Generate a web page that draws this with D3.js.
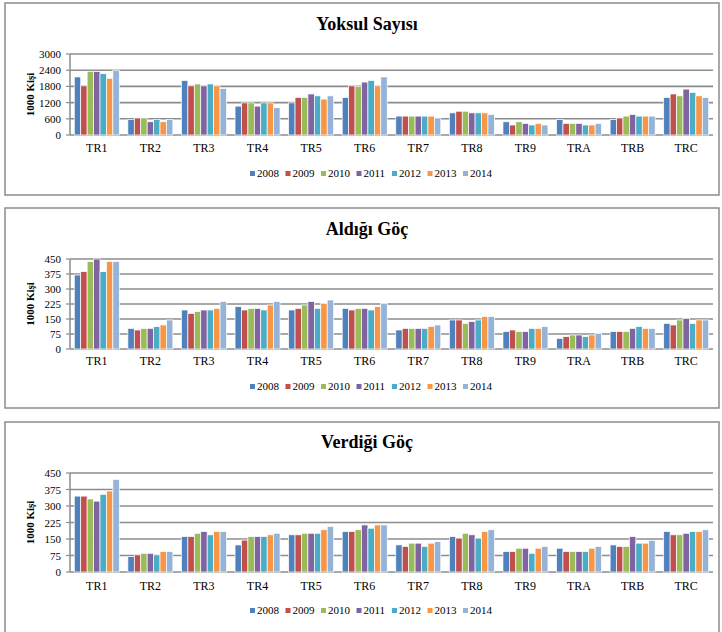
<html>
<head>
<script src="https://d3js.org/d3.v7.min.js"></script>
<style>
body { margin: 0; background: #fff; }
text { font-family: "Liberation Serif", "DejaVu Serif", serif; fill: #000; }
</style>
</head>
<body>
<div id="chart"></div>
<script>
var width = 722, height = 632;

var regions = ["TR1","TR2","TR3","TR4","TR5","TR6","TR7","TR8","TR9","TRA","TRB","TRC"];
var years = ["2008","2009","2010","2011","2012","2013","2014"];
var colors = ["#4f81bd","#c0504d","#9bbb59","#8064a2","#4bacc6","#f79646","#95b3d7"];

// one row per region, one value per year
var yoksul = [
  [2150,1820,2360,2350,2270,2100,2400],
  [580,630,630,490,580,490,580],
  [2020,1820,1890,1820,1890,1820,1720],
  [1070,1190,1190,1070,1190,1190,1010],
  [1190,1390,1390,1520,1450,1330,1450],
  [1390,1820,1790,1960,2020,1820,2150],
  [700,700,700,700,700,700,630],
  [820,880,880,820,820,820,760],
  [490,370,490,430,370,430,370],
  [570,430,430,430,370,370,430],
  [570,630,700,760,700,700,700],
  [1390,1520,1450,1700,1580,1450,1390]
];
var aldigi = [
  [370,387,437,450,387,437,437],
  [103,95,103,103,112,120,145],
  [195,178,187,195,195,203,237],
  [212,195,203,203,195,220,237],
  [195,203,220,237,203,228,245],
  [203,195,203,203,195,212,228],
  [95,103,103,103,103,112,120],
  [145,145,128,137,145,162,162],
  [87,95,87,87,103,103,112],
  [53,62,70,70,62,70,78],
  [87,87,87,103,112,103,103],
  [128,120,145,153,128,145,145]
];
var verdigi = [
  [345,345,332,322,353,368,421],
  [70,78,85,85,78,93,93],
  [161,161,176,184,169,184,184],
  [123,145,161,161,161,169,176],
  [169,169,176,176,176,192,207],
  [184,184,192,214,199,214,214],
  [123,116,131,131,116,131,138],
  [161,154,176,169,154,184,192],
  [93,93,108,108,85,108,116],
  [108,93,93,93,93,108,116],
  [123,116,116,161,131,131,144],
  [184,169,169,176,184,184,192]
];
var ticksYoksul = [0,600,1200,1800,2400,3000];
var ticksGoc = [0,75,150,225,300,375,450];

var svg = d3.select("#chart").append("svg").attr("width", width).attr("height", height);

function drawPanel(p) {
  var g = svg.append("g");

  g.append("rect")
    .attr("x", 5).attr("y", p.boxTop)
    .attr("width", 714).attr("height", p.boxHeight)
    .style("fill", "none").style("stroke", "#8c8c8c").style("stroke-width", 1.5);

  g.append("text")
    .attr("x", 367).attr("y", p.titleY)
    .attr("text-anchor", "middle")
    .style("font-size", "18px").style("font-weight", "bold")
    .text(p.title);

  var x = d3.scaleBand().domain(regions).range([70, 713]).paddingInner(0.16).paddingOuter(0.08);
  var xs = d3.scaleBand().domain(years).range([0, x.bandwidth()]);
  var y = d3.scaleLinear().domain([0, d3.max(p.ticks)]).range([p.bottom, p.top]);

  // gridlines
  g.selectAll(".grid").data(p.ticks).enter().append("line")
    .attr("x1", 70).attr("x2", 713)
    .attr("y1", function(d) { return y(d); })
    .attr("y2", function(d) { return y(d); })
    .style("stroke", "#8c8c8c").style("stroke-width", 1.6);

  g.append("line")
    .attr("x1", 70).attr("x2", 70)
    .attr("y1", p.top).attr("y2", p.bottom)
    .style("stroke", "#8c8c8c").style("stroke-width", 1.5);

  g.selectAll(".tick").data(p.ticks).enter().append("line")
    .attr("x1", 66).attr("x2", 70)
    .attr("y1", function(d) { return y(d); })
    .attr("y2", function(d) { return y(d); })
    .style("stroke", "#8c8c8c").style("stroke-width", 1.2);

  g.selectAll(".ylab").data(p.ticks).enter().append("text")
    .attr("x", 61)
    .attr("y", function(d) { return y(d) + 4; })
    .attr("text-anchor", "end")
    .style("font-size", "11px")
    .text(function(d) { return d; });

  g.append("text")
    .attr("transform", "translate(34," + ((p.top + p.bottom) / 2) + ") rotate(-90)")
    .attr("text-anchor", "middle")
    .style("font-size", "11px").style("font-weight", "bold")
    .text("1000 Kişi");

  var groups = g.selectAll(".region").data(p.values).enter().append("g")
    .attr("transform", function(d, i) { return "translate(" + x(regions[i]) + ",0)"; });

  groups.selectAll("rect").data(function(d) { return d; }).enter().append("rect")
    .attr("x", function(d, i) { return xs(years[i]); })
    .attr("width", xs.bandwidth())
    .attr("y", function(d) { return y(d); })
    .attr("height", function(d) { return p.bottom - y(d); })
    .style("fill", function(d, i) { return colors[i]; })
    .style("stroke", "#fff").style("stroke-width", 0.7);

  g.selectAll(".xlab").data(regions).enter().append("text")
    .attr("x", function(d) { return x(d) + x.bandwidth() / 2; })
    .attr("y", p.labelY)
    .attr("text-anchor", "middle")
    .style("font-size", "12px")
    .text(function(d) { return d; });

  var legend = g.selectAll(".leg").data(years).enter().append("g")
    .attr("transform", function(d, i) { return "translate(" + (250 + i * 35.5) + "," + p.legendY + ")"; });
  legend.append("rect")
    .attr("x", 0).attr("y", -6).attr("width", 5).attr("height", 5)
    .style("fill", function(d, i) { return colors[i]; });
  legend.append("text")
    .attr("x", 7).attr("y", 0)
    .style("font-size", "11px")
    .text(function(d) { return d; });
}

drawPanel({ title: "Yoksul Sayısı", values: yoksul, ticks: ticksYoksul,
  boxTop: 3, boxHeight: 192, titleY: 30, top: 54, bottom: 135, labelY: 152, legendY: 177 });
drawPanel({ title: "Aldığı Göç", values: aldigi, ticks: ticksGoc,
  boxTop: 208, boxHeight: 200, titleY: 235, top: 259, bottom: 349, labelY: 365, legendY: 390 });
drawPanel({ title: "Verdiği Göç", values: verdigi, ticks: ticksGoc,
  boxTop: 422, boxHeight: 230, titleY: 448, top: 473, bottom: 572, labelY: 590, legendY: 614 });
</script>
</body>
</html>
